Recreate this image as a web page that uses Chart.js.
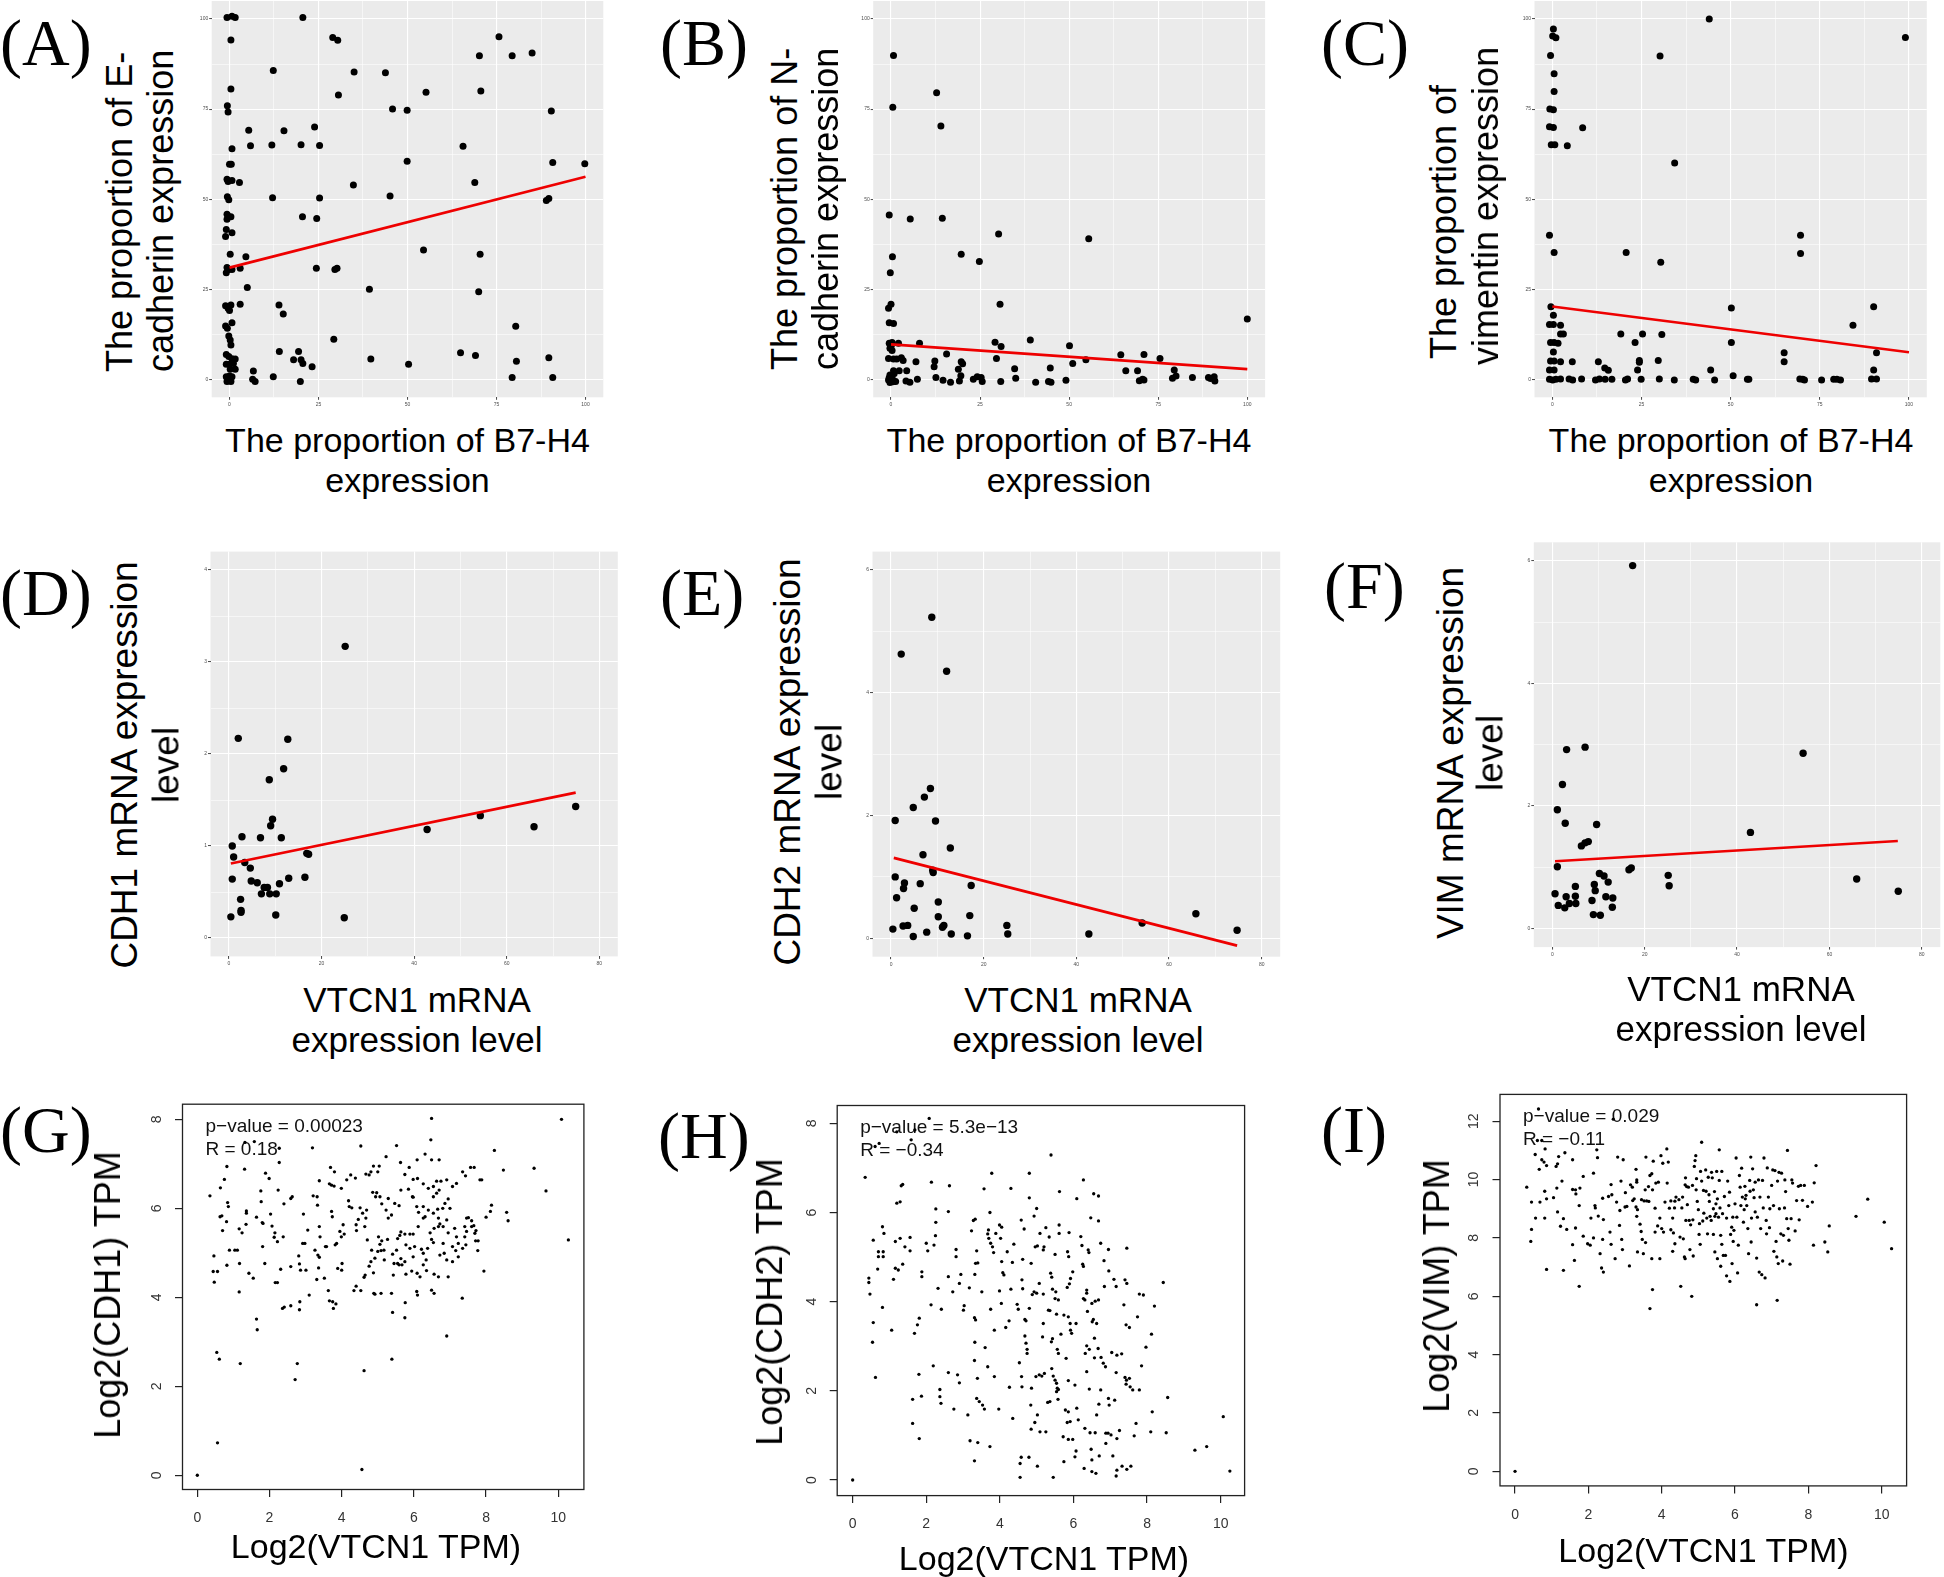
<!DOCTYPE html>
<html><head><meta charset="utf-8">
<script src="https://cdn.jsdelivr.net/npm/chart.js@4.4.1/dist/chart.umd.min.js"></script>
<style>
html,body{margin:0;padding:0;background:#fff;overflow:hidden;width:1944px;height:1577px;position:relative;}
.lbl{position:absolute;font-family:"Liberation Serif","Times New Roman",serif;font-size:66px;line-height:66px;color:#000;white-space:nowrap;}
.t{position:absolute;font-family:"Liberation Sans",Arial,sans-serif;color:#000;white-space:nowrap;transform-origin:0 0;}
</style></head><body>
<script>
// ---------------- data ----------------
const A_POINTS = [[-0.7,100.4],[0.7,100.8],[1.6,100.4],[0.4,94.2],[0.4,80.6],[-0.6,75.9],[-0.4,74.2],[0.7,64.0],[0,59.7],[0.5,59.7],[-0.7,55.5],[-0.4,54.9],[0.7,55.2],[-0.6,50.7],[-0.2,49.8],[-0.7,45.8],[-0.2,45.1],[0.4,45.1],[-0.7,44.4],[-0.9,41.6],[0.7,40.7],[-1.1,39.6],[0.2,34.7],[-0.9,29.6],[-0.2,30.5],[0.7,30.5],[-0.7,31.0],[-1.1,20.4],[0.4,20.6],[-0.4,19.7],[0,19.1],[-1.1,14.8],[-0.6,14.2],[0.7,15.7],[-0.2,12.0],[0.2,10.9],[0.4,9.5],[-0.9,6.9],[-0.2,6.3],[0.7,5.7],[-0.9,4.2],[0,4.2],[1.1,4.4],[1.6,5.6],[1.6,2.8],[0.2,2.8],[-0.9,0.7],[0,0.9],[0.7,0.7],[-0.7,-0.6],[0.4,-0.6],
[2.8,54.6],[3.0,30.8],[3.0,20.8],[4.6,34.0],[5.0,25.5],[5.4,69.1],[5.9,64.8],[6.7,2.3],[6.5,0],[7.2,-0.6],
[12.3,85.7],[11.9,65.0],[12.1,50.4],[12.3,0.7],[13.9,20.6],[15.1,18.1],[14.0,7.7],[15.3,69.0],
[18.0,5.4],[19.4,7.7],[20.1,5.4],[20.6,4.4],[19.9,-0.6],[20.1,65.1],[20.5,45.1],[20.6,100.4],
[23.2,3.5],[23.9,70.0],[24.5,44.6],[24.4,30.8],[25.3,64.9],[25.3,50.3],
[29.0,94.9],[30.4,94.1],[30.6,78.9],[29.3,11.1],[29.6,30.5],[30.2,30.8],
[35.0,85.3],[34.8,53.9],[39.3,25.0],[39.7,5.6],[43.8,85.1],[45.8,75.0],[45.1,50.9],
[49.9,74.7],[49.9,60.5],[50.3,4.2],[54.5,35.9],[55.2,79.7],
[64.9,7.4],[65.6,64.7],[68.9,54.6],[69.1,6.6],[70.2,89.8],[70.6,80.0],[70.4,34.7],[70.0,24.3],
[75.7,95.1],[79.4,89.8],[80.4,14.7],[79.4,0.5],[80.6,5.0],[85.0,90.6],
[89.0,49.6],[89.7,50.2],[90.4,74.5],[90.8,60.2],[89.7,6.0],[90.8,0.5],[99.8,59.8]];
const A_FIT = [[0,31.0],[100,56.2]];

const B_POINTS = [[0.7,89.9],[12.8,79.5],[0.5,75.5],[14.0,70.3],[-0.5,45.6],[5.4,44.5],[14.4,44.7],[30.2,40.3],[55.5,39.0],[0.4,34.0],[19.7,34.7],[24.8,32.7],[-0.2,29.6],[-0.7,19.7],[0,20.8],[30.6,20.8],[-0.5,15.7],[0.7,15.5],[100,16.7],
[-0.5,10.0],[0.3,10.2],[-0.3,8.6],[0.3,8.0],[-0.7,5.8],[0.7,5.6],[1.6,5.6],[0.7,2.4],[-0.3,1.2],[0.3,0.7],[-0.7,-0.2],[0.7,-0.4],[1.3,-0.6],[-0.3,-0.9],[0.9,1.6],[-0.5,0.4],[0.5,-0.7],[0.1,9.4],
[2.1,10.0],[2.9,6.0],[3.4,5.2],[2.3,2.4],[4.4,2.4],[4.2,-0.5],[5.3,-0.8],[8.0,10.0],[7.0,4.9],[7.4,0],
[12.3,5.1],[12.1,3.5],[12.6,0.5],[14.6,-0.3],[15.6,7.0],[16.7,-0.8],[18.9,2.8],[19.7,4.9],[20.1,4.3],[19.6,1.0],[19.2,-0.5],
[23.1,0],[24.2,0.7],[25.3,0.5],[25.6,-0.6],[29.2,10.3],[30.9,9.1],[29.6,5.8],[30.8,-0.6],
[34.7,2.9],[35.0,0.3],[39.1,10.9],[40.6,-0.8],[44.7,3.1],[44.2,-0.6],[44.9,-0.8],
[49.1,-0.3],[50.1,9.3],[51.0,4.4],[54.7,5.4],[64.5,6.8],[65.9,2.4],[69.2,2.4],[69.7,-0.4],[70.6,0],[71.0,-0.2],[71.0,6.9],
[75.5,5.8],[79.5,2.6],[79.0,0.3],[80.0,0.9],[84.6,0.5],[89.1,0.5],[89.7,0.2],[90.7,0.7],[90.9,-0.5]];
const B_FIT = [[0,9.7],[100,2.8]];

const C_POINTS = [[0.3,97.2],[0.1,95.3],[1.0,94.8],[-0.5,89.9],[0.5,84.8],[0.5,79.9],[-0.7,75.0],[0.3,74.8],[-0.8,70.1],[0.3,69.9],[-0.3,65.1],[0.7,65.1],[4.2,64.8],[8.5,69.8],[44.0,100.0],[30.2,89.7],[34.3,60.0],[99.0,94.9],
[-0.8,40.0],[0.5,35.2],[20.7,35.2],[30.4,32.5],[69.6,40.0],[69.6,34.9],
[-0.4,20.1],[0.3,17.8],[-0.8,15.2],[0.3,15.2],[2.3,15.0],[2.3,12.6],[3.1,12.6],[-0.5,10.2],[0.5,10.2],[1.6,10.0],[0.3,7.6],[-0.5,5.1],[0.5,5.1],[2.3,4.9],[5.6,4.9],[-0.8,2.6],[0.5,2.6],
[-0.8,0],[0.1,-0.2],[1.0,0],[2.3,0.1],[4.7,0.1],[5.7,-0.2],[8.2,0.1],
[12.9,4.9],[14.7,3.1],[15.7,2.5],[12.1,-0.2],[13.2,0.1],[14.8,0],[16.7,0],
[19.2,12.6],[23.2,10.2],[25.3,12.6],[24.4,5.2],[24.4,4.7],[23.9,2.6],[20.5,-0.2],[21.1,0.1],[24.9,0],
[30.7,12.4],[29.7,5.2],[30.0,0.1],[34.2,-0.2],[39.5,0],[40.2,-0.2],
[44.4,2.6],[45.5,-0.2],[50.2,19.8],[50.2,10.2],[50.7,1.0],[54.7,0],[55.1,0],
[65.0,7.4],[65.0,4.9],[69.4,0.1],[70.2,0],[70.7,-0.2],[75.5,-0.2],[78.9,0],[79.8,0],[80.8,-0.2],[84.3,15.0],
[90.1,20.1],[90.9,7.4],[90.1,2.6],[89.5,0.1],[90.9,0.1]];
const C_FIT = [[0,20.2],[100,7.5]];

const D_POINTS = [[0.4,0.23],[0.7,0.64],[0.7,1.0],[1.0,0.88],[2.0,2.17],[2.5,0.42],[2.6,0.30],[2.6,0.28],[2.8,1.10],[3.4,0.82],[4.6,0.76],[4.8,0.62],[6.1,0.60],[6.8,1.09],[7.0,0.48],[7.6,0.55],[8.3,0.55],[8.7,1.72],[8.8,0.48],[9.0,1.22],[9.4,1.29],[10.1,0.25],[10.2,0.48],[10.9,0.59],[11.3,1.09],[11.8,1.84],[12.7,2.16],[12.9,0.65],[16.4,0.66],[16.8,0.92],[17.2,0.91],[25.1,3.17],[24.9,0.22],[42.8,1.18],[54.3,1.33],[65.9,1.21],[74.9,1.43]];
const D_FIT = [[0.4,0.81],[74.9,1.58]];

const E_POINTS = [[0.4,0.15],[0.9,1.92],[0.9,1.00],[1.2,0.66],[2.2,4.63],[2.6,0.20],[3.6,0.21],[2.7,0.81],[2.9,0.90],[4.8,2.13],[4.8,0.03],[5.0,0.49],[6.3,0.89],[6.9,1.36],[7.2,2.30],[7.7,0.10],[8.5,2.44],[8.8,5.23],[9.0,1.11],[9.1,1.07],[9.6,1.91],[10.2,0.59],[10.2,0.35],[11.1,0.18],[11.4,0.21],[12.0,4.35],[12.8,1.47],[13.0,0.07],[16.5,0.04],[17.0,0.37],[17.3,0.86],[25.0,0.21],[25.2,0.07],[42.7,0.07],[54.2,0.25],[65.8,0.40],[74.7,0.13]];
const E_FIT = [[0.6,1.31],[74.7,-0.12]];

const F_POINTS = [[0.6,0.57],[1.1,1.94],[1.1,1.01],[1.3,0.38],[2.2,2.35],[2.8,1.72],[2.7,0.34],[3.0,0.52],[3.1,2.92],[3.7,0.41],[5.0,0.53],[5.0,0.69],[5.1,0.41],[6.3,1.35],[7.1,1.40],[7.8,1.42],[7.1,2.96],[8.6,0.46],[8.9,0.23],[9.1,0.72],[9.3,0.62],[9.6,1.70],[10.2,0.90],[10.4,0.22],[11.2,0.86],[11.6,0.52],[12.1,0.76],[13.0,0.35],[13.1,0.50],[16.6,0.96],[17.1,0.99],[17.4,5.92],[25.1,0.87],[25.3,0.70],[42.9,1.57],[54.3,2.86],[65.9,0.81],[74.9,0.61]];
const F_FIT = [[0.6,1.10],[74.8,1.43]];

const G_POINTS = [[0,0],[0.56,0.73],[0.54,2.76],[0.61,2.61],[1.19,2.51],[2.77,2.51],[2.71,2.15],[1.64,3.51],[1.66,3.27],[4.56,0.13],[4.62,2.35],[5.39,2.61],[5.41,3.66],[5.75,3.54],[6.91,3.13],[7.34,3.98],[7.94,4.59],[10.28,5.29],[10.09,8.0],[6.49,8.02],[9.66,6.39],[9.33,6.90],[8.48,6.86],[8.23,7.30],[8.61,5.72],[8.57,5.91],[8.0,5.80],[8.15,6.07],[8.12,5.93],[7.83,6.64],[7.88,6.64],[7.57,6.92],[7.67,6.92],[7.72,5.50],[7.78,5.27],[7.77,5.05],[1.32,7.48],[1.58,7.50],[2.27,7.35],
[0.35,6.28],[0.46,4.93],[0.44,4.58],[0.56,4.58],[0.47,4.34],[0.63,5.81],[0.68,5.83],[0.75,6.65],[0.64,6.46],[0.70,5.50],[0.81,5.70],[0.82,6.94],[0.84,6.13],[0.86,6.04],[0.82,4.72],[0.89,5.06],[1.04,5.06],[1.11,5.06],[1.16,5.54],[1.24,5.45],[1.17,4.76],[1.16,4.12],[1.31,6.88],[1.36,5.94],[1.36,5.89],[1.35,5.64],[1.43,4.54],[1.55,4.43],[1.64,5.80],[1.80,5.68],[1.82,5.66],[1.77,6.15],[1.76,6.39],[1.81,5.14],[1.87,4.76],[1.89,6.79],[1.99,6.67],[2.03,5.87],[2.07,5.60],[2.15,5.45],[2.13,5.35],[2.16,4.33],[2.22,4.33],[2.24,6.41],[2.27,7.03],[2.22,5.25],[2.31,4.63],
[2.36,3.75],[2.41,3.78],[2.40,6.10],[2.38,5.36],[2.59,6.22],[2.63,6.26],[2.59,4.69],[2.59,3.81],[2.81,4.93],[2.83,4.75],[2.86,4.61],[2.83,3.72],[2.84,3.90],[2.92,5.21],[2.98,5.21],[2.94,5.87],[3.01,4.61],[3.06,5.51],[3.10,4.05],[3.19,7.36],[3.21,6.28],[3.32,6.26],[3.26,5.06],[3.31,4.40],[3.33,6.07],[3.34,4.95],[3.38,4.90],[3.36,4.66],[3.38,6.62],[3.38,5.59],[3.40,5.36],[3.52,4.43],[3.55,5.14],[3.58,5.14],[3.63,4.15],[3.66,6.55],[3.69,6.92],[3.72,6.52],[3.79,6.50],[3.72,5.93],[3.74,5.81],[3.66,3.92],[3.75,3.90],[3.84,3.85],[3.77,3.75],[3.80,6.82],[3.82,5.18],[3.86,5.21],[3.89,4.65],[3.95,5.48],[3.99,5.36],[4.01,4.76],[4.00,4.61],[4.04,5.63],[3.99,6.45],[4.07,5.42],
[4.14,6.64],[4.19,6.17],[4.21,6.04],[4.25,6.75],[4.28,6.01],[4.34,4.15],[4.40,4.25],[4.38,6.68],[4.40,5.63],[4.41,5.50],[4.46,5.75],[4.51,6.01],[4.53,7.40],[4.53,4.15],[4.58,5.89],[4.62,4.45],[4.65,4.50],[4.64,5.59],[4.67,6.77],[4.67,5.78],[4.69,5.96],[4.71,5.29],[4.76,6.75],[4.76,4.70],[4.81,4.80],[4.81,6.82],[4.83,5.06],[4.86,6.36],[4.88,6.95],[4.89,4.09],[4.92,4.07],[4.88,4.55],[4.92,4.88],[4.94,6.26],[4.97,6.35],[5.00,6.82],[5.00,5.03],[5.02,5.36],[5.04,6.95],[5.06,6.26],[5.06,5.19],[5.09,5.05],[5.09,4.09],[5.11,6.10],[5.11,5.27],[5.17,5.06],[5.18,4.84],[5.23,5.96],[5.23,7.16],[5.27,5.30],[5.29,6.22],[5.29,5.78],[5.38,5.85],[5.38,4.09],[5.41,4.97],[5.43,4.50],[5.45,4.76],[5.47,6.11],[5.52,7.41],[5.52,5.06],[5.55,5.32],[5.55,4.76],[5.59,6.06],[5.59,4.73],[5.67,4.73],[5.61,5.39],[5.63,7.03],[5.64,6.41],[5.64,5.47],[5.64,4.87],[5.75,6.76],[5.75,5.42],[5.75,4.80],[5.76,3.88],[5.78,5.18],[5.78,4.52],[5.85,6.43],[5.87,6.92],[5.89,5.42],[5.89,5.10],[5.94,4.59],[5.96,6.26],[5.98,6.25],
[5.98,6.65],[6.10,6.67],[5.98,5.42],[5.98,4.91],[6.02,5.14],[6.08,6.04],[6.08,4.13],[6.10,4.05],[6.09,7.09],[6.09,4.54],[6.12,5.59],[6.13,5.91],[6.17,4.46],[6.21,5.08],[6.26,6.55],[6.26,6.04],[6.26,5.78],[6.26,4.99],[6.26,4.73],[6.31,7.22],[6.31,5.81],[6.34,4.84],[6.35,4.60],[6.38,5.10],[6.40,6.45],[6.40,5.96],[6.45,5.45],[6.47,7.54],[6.49,7.09],[6.49,5.30],[6.49,4.16],[6.56,4.09],[6.54,6.49],[6.54,6.26],[6.54,5.89],[6.54,5.23],[6.56,5.55],[6.56,4.52],[6.63,6.61],[6.75,6.61],[6.63,6.34],[6.66,5.98],[6.68,5.78],[6.68,5.59],[6.68,4.46],[6.70,7.09],[6.70,6.41],[6.72,5.65],[6.72,4.95],[6.80,6.00],[6.81,5.59],[6.81,5.21],[6.84,4.99],[6.86,6.11],[6.91,6.64],[6.91,5.74],[6.91,4.84],[6.95,6.21],[6.95,5.45],[6.95,4.46],[7.00,6.00],[7.07,6.49],[7.07,5.14],[7.07,4.80],[7.13,5.55],[7.16,5.05],[7.18,6.56],[7.18,5.36],[7.23,5.21],[7.23,4.91],[7.35,6.82],[7.35,5.10],[7.41,5.59],[7.41,5.36],[7.43,6.73],[7.44,5.18],[7.46,5.78],[7.46,5.48],[7.51,5.79],[7.60,5.72],[7.60,5.59],[7.66,5.61],[7.69,5.44],[7.71,5.27]];

const H_POINTS = [[0,0],[10.25,0.2],[10.07,1.42],[9.62,0.75],[9.30,0.67],[8.56,1.85],[8.44,4.43],[5.39,7.29],[0.34,6.79],[2.08,8.11],[1.20,7.81],[1.69,7.85],[1.59,7.63],[0.72,7.55],[0.61,7.48],
[1.32,6.60],[1.36,6.63],[1.20,6.21],[1.29,6.24],[0.81,5.68],[0.85,5.53],[0.56,5.38],[0.70,5.12],[0.83,5.12],[0.70,5.01],[0.83,5.01],[0.68,4.73],[0.44,4.53],[0.44,4.43],[0.47,4.17],[0.81,3.87],[0.56,3.53],[0.54,3.09],[0.62,2.30],[1.06,3.36],[1.16,5.35],[1.29,5.42],[1.42,5.23],[1.56,5.44],[1.56,5.14],[1.16,4.75],[1.24,4.71],[1.36,4.84],[1.11,4.50],[1.63,1.27],[1.81,0.93],[1.63,1.81],[1.87,1.88],[1.68,3.29],[1.76,3.48],[1.81,3.63],[1.80,2.37],[1.88,4.67],[1.88,4.56],[2.00,5.31],[2.04,5.14],[2.14,6.68],[2.26,6.08],[2.26,5.78],[2.25,5.48],[2.21,5.27],[2.32,4.30],[2.13,3.93],[2.41,3.83],[2.19,2.56],[2.37,2.03],[2.37,1.87],[2.40,1.72],[2.60,6.02],[2.63,6.60],[2.60,4.56],[2.72,4.22],[2.75,1.59],[2.60,2.41],[2.85,2.36],[2.90,2.18],[2.81,5.17],[2.81,5.01],[2.90,4.41],[2.94,4.61],[3.01,3.81],[3.03,3.91],[3.17,4.31],[3.13,1.46],[3.23,5.59],[3.28,5.82],[3.33,5.85],[3.31,3.64],[3.34,3.59],[3.32,3.09],[3.37,5.14],[3.34,4.86],[3.40,4.87],[3.32,4.61],[3.31,2.68],[3.39,2.28],[3.19,0.88],[3.40,0.84],[3.31,0.43],[3.37,1.83],[3.44,1.76],[3.53,1.68],[3.51,4.22],[3.57,6.53],[3.60,2.97],[3.58,1.59],[3.69,5.61],[3.67,5.52],[3.70,5.42],[3.73,6.00],[3.75,5.31],[3.80,5.23],[3.78,6.88],[3.75,3.83],[3.67,2.54],[3.73,0.75],[3.85,3.36],[3.85,2.32],[3.89,5.53],[3.83,5.10],[3.97,1.59],[3.99,5.72],[4.05,5.67],[3.99,4.24],[4.02,5.42],[4.04,3.96],[4.08,4.65],[4.05,4.90],[4.11,4.60],[4.16,3.42],[4.20,5.12],[4.25,3.57],[4.26,2.08],[4.30,6.54],[4.34,4.88],[4.30,4.28],[4.35,1.38],[4.38,5.29],[4.47,3.94],[4.50,3.83],[4.53,2.63],[4.55,0.06],[4.55,0.37],[4.59,2.32],[4.60,2.09],[4.58,0.51],[4.79,0.51],[4.60,4.49],[4.62,4.29],[4.66,5.63],[4.58,5.83],[4.62,4.95],[4.68,3.60],[4.71,3.57],[4.68,3.23],[4.74,2.93],[4.74,2.84],[4.71,3.07],[4.80,6.33],[4.80,3.85],[4.85,4.86],[4.86,2.06],[4.88,4.16],[4.84,1.68],[4.85,1.14],[4.93,4.22],[5.00,4.19],[4.93,5.92],[4.96,5.23],[5.02,5.25],[5.00,6.09],[4.95,1.29],[4.98,2.32],[5.02,0.31],[5.02,1.46],[5.07,4.41],[5.09,5.53],[5.09,1.08],[5.25,1.08],[5.14,2.33],[5.07,2.36],[5.16,3.21],[5.18,3.51],[5.18,5.16],[5.20,5.23],[5.18,4.17],[5.25,5.66],[5.21,2.39],[5.32,3.81],[5.36,3.80],[5.30,1.74],[5.36,1.76],[5.34,5.45],[5.38,4.64],[5.41,4.55],[5.41,2.50],[5.45,0.06],[5.43,3.17],[5.40,3.10],[5.43,4.28],[5.45,2.33],[5.50,4.07],[5.50,2.24],[5.54,2.17],[5.50,5.06],[5.52,4.22],[5.54,3.72],[5.56,2.93],[5.59,2.84],[5.58,1.81],[5.54,1.98],[5.56,2.06],[5.59,2.03],[5.59,4.04],[5.61,5.72],[5.61,5.53],[5.62,6.47],[5.66,3.27],[5.72,0.97],[5.74,0.41],[5.74,3.70],[5.78,1.57],[5.86,1.53],[5.80,2.73],[5.83,4.32],[5.84,5.12],[5.87,5.01],[5.86,3.66],[5.83,1.29],[5.91,1.31],[5.86,2.23],[5.88,5.55],[5.91,3.51],[5.92,3.36],[5.95,3.29],[5.86,0.91],[5.98,0.91],[5.89,4.40],[5.92,4.52],[5.98,4.67],[6.04,2.13],[6.07,3.51],[6.09,1.61],[6.07,0.65],[6.04,0.52],[6.13,1.35],[6.09,6.31],[6.20,5.46],[6.23,5.26],[6.25,4.84],[6.27,4.79],[6.27,6.73],[6.27,4.07],[6.31,4.04],[6.29,0.26],[6.31,1.16],[6.32,2.84],[6.36,4.26],[6.36,4.19],[6.36,3.01],[6.43,2.93],[6.36,2.43],[6.38,3.78],[6.40,5.16],[6.42,5.10],[6.43,2.04],[6.45,1.06],[6.59,1.06],[6.47,5.88],[6.48,0.69],[6.50,0.45],[6.50,3.96],[6.51,3.55],[6.54,3.60],[6.50,0.19],[6.61,0.15],[6.55,6.42],[6.68,6.37],[6.57,3.18],[6.57,2.74],[6.59,4.01],[6.63,1.46],[6.63,3.51],[6.67,2.95],[6.68,5.81],[6.68,4.04],[6.69,1.70],[6.70,0.54],[6.74,5.31],[6.74,2.02],[6.75,2.75],[6.81,2.62],[6.83,4.92],[6.84,4.34],[6.87,2.54],[6.88,1.05],[6.88,0.82],[6.94,1.05],[7.02,1.01],[6.95,5.17],[6.96,4.69],[6.95,1.83],[6.97,1.68],[7.04,2.86],[7.07,0.54],[7.10,4.50],[7.12,1.79],[7.16,4.34],[7.16,2.41],[7.18,2.80],[7.18,0.93],[7.18,0.22],[7.16,0.09],[7.25,1.11],[7.31,2.83],[7.32,0.31],[7.37,3.93],[7.40,4.49],[7.40,2.30],[7.44,2.24],[7.43,3.48],[7.52,3.42],[7.45,4.41],[7.43,2.15],[7.45,0.24],[7.56,0.31],[7.45,5.20],[7.52,2.28],[7.54,2.09],[7.61,2.02],[7.65,0.99],[7.70,1.27],[7.74,3.66],[7.79,2.02],[7.79,4.17],[7.90,4.15],[7.85,2.56],[7.97,2.98],[8.10,1.08],[8.12,3.27],[8.14,1.53],[8.20,3.90],[8.52,1.06],[4.80,6.88]];

const I_POINTS = [[0,0],[0.64,12.42],[2.68,12.07],[0.61,11.34],[0.73,11.34],[0.32,9.74],[0.43,7.88],[0.45,8.29],[0.45,9.23],[0.56,8.68],[0.55,10.86],[0.66,10.35],[0.73,10.68],[0.79,10.60],[0.82,11.05],[0.86,10.48],[0.68,9.23],[0.81,8.68],[0.81,9.60],[0.86,9.34],[0.86,6.92],[1.05,9.38],[1.12,10.45],[1.16,10.54],[1.19,10.79],[1.14,9.71],[1.16,8.89],[1.24,8.40],[1.28,9.95],[1.32,8.66],[1.32,6.89],[1.36,10.92],[1.41,8.29],[1.57,10.68],[1.57,9.66],[1.65,9.65],[1.66,9.51],[1.77,9.71],[1.75,9.11],[1.65,8.34],[1.57,7.77],[1.62,7.23],[1.75,6.34],[1.86,10.11],[1.86,8.06],[1.98,7.80],[2.05,7.75],[2.07,8.68],[2.14,8.00],[2.14,10.22],[2.18,9.11],[2.19,9.03],[2.23,11.02],[2.25,10.75],[2.27,8.75],[2.32,7.46],[2.36,6.97],[2.41,6.83],[2.39,7.95],[2.41,8.63],[2.39,9.36],[2.55,9.42],[2.59,8.20],[2.62,7.78],[2.62,9.83],[2.64,9.48],[2.73,7.29],[2.77,9.23],[2.80,10.77],[2.85,8.43],[2.86,8.94],[2.89,9.95],[2.91,7.95],[2.93,7.60],[2.95,10.68],[3.01,9.55],[3.00,9.06],[3.05,9.08],[3.12,7.04],[3.15,9.82],[3.20,9.74],[3.21,9.28],[3.25,9.34],[3.30,10.35],[3.32,9.99],[3.32,9.91],[3.30,9.06],[3.34,8.97],[3.32,8.74],[3.34,7.52],[3.41,8.47],[3.44,8.22],[3.45,9.31],[3.47,7.95],[3.50,7.46],[3.52,9.27],[3.55,9.65],[3.56,7.84],[3.57,10.77],[3.59,9.27],[3.64,9.76],[3.65,9.25],[3.68,10.14],[3.68,5.58],[3.73,10.20],[3.73,7.29],[3.75,6.23],[3.75,9.65],[3.77,10.63],[3.82,8.20],[3.82,9.02],[3.84,9.88],[3.89,8.41],[3.91,9.91],[3.95,7.29],[3.95,8.68],[3.98,10.82],[4.00,8.32],[4.05,8.20],[4.03,10.56],[4.09,9.23],[4.14,11.05],[4.15,9.88],[4.18,10.60],[4.21,9.02],[4.25,9.27],[4.25,8.28],[4.30,8.68],[4.30,7.54],[4.32,8.17],[4.35,9.03],[4.36,9.26],[4.36,7.80],[4.39,9.40],[4.47,9.31],[4.50,8.03],[4.52,6.34],[4.55,9.03],[4.57,9.40],[4.59,7.97],[4.62,7.35],[4.64,7.29],[4.65,10.06],[4.64,9.82],[4.66,8.60],[4.68,9.76],[4.70,9.14],[4.73,9.74],[4.75,8.60],[4.77,7.60],[4.79,8.45],[4.82,6.00],[4.84,9.80],[4.85,8.62],[4.86,7.38],[4.89,10.45],[4.91,10.65],[4.93,10.82],[4.94,9.65],[4.95,10.03],[4.97,9.25],[5.00,8.97],[5.02,8.12],[5.03,8.49],[5.05,7.78],[5.06,10.28],[5.09,11.28],[5.09,9.95],[5.12,8.58],[5.14,9.63],[5.15,8.85],[5.20,10.33],[5.21,9.60],[5.23,8.68],[5.25,8.14],[5.27,10.08],[5.29,9.48],[5.30,9.25],[5.32,8.74],[5.35,8.60],[5.36,10.25],[5.38,10.06],[5.41,9.00],[5.41,8.12],[5.44,9.59],[5.45,8.74],[5.48,8.83],[5.45,7.52],[5.48,9.17],[5.50,10.28],[5.52,9.34],[5.52,7.29],[5.55,8.71],[5.57,11.02],[5.57,9.97],[5.59,9.03],[5.61,8.09],[5.61,7.03],[5.64,10.28],[5.64,7.78],[5.66,8.83],[5.68,7.40],[5.71,9.42],[5.74,7.40],[5.77,8.68],[5.77,6.70],[5.80,9.95],[5.83,9.11],[5.85,9.57],[5.86,6.51],[5.88,8.12],[5.91,8.37],[5.92,7.12],[5.94,8.71],[5.95,7.88],[5.97,8.26],[6.00,9.17],[6.03,10.74],[6.05,8.71],[6.07,6.80],[6.09,7.75],[6.12,10.14],[6.14,9.74],[6.16,9.11],[6.18,10.39],[6.20,9.40],[6.23,8.54],[6.25,8.97],[6.27,9.77],[6.28,9.34],[6.30,9.46],[6.32,9.11],[6.35,8.32],[6.37,7.46],[6.40,9.97],[6.41,9.60],[6.43,10.77],[6.44,7.86],[6.45,8.68],[6.48,10.37],[6.50,9.65],[6.52,9.38],[6.55,9.91],[6.55,8.89],[6.59,7.31],[6.59,5.71],[6.61,8.71],[6.64,9.99],[6.66,6.83],[6.68,9.40],[6.70,8.32],[6.73,6.74],[6.75,9.97],[6.77,9.03],[6.79,10.74],[6.82,6.63],[6.85,8.60],[6.86,8.14],[6.88,10.40],[6.91,9.40],[6.94,8.35],[6.95,9.00],[7.00,9.80],[7.03,10.33],[7.05,9.11],[7.06,7.54],[7.09,10.31],[7.12,7.88],[7.14,7.35],[7.15,5.86],[7.16,9.95],[7.18,7.12],[7.20,10.25],[7.21,9.00],[7.25,8.14],[7.27,10.22],[7.30,7.21],[7.32,8.09],[7.35,9.03],[7.36,9.99],[7.38,9.59],[7.41,8.66],[7.43,11.00],[7.45,8.32],[7.47,7.92],[7.50,7.10],[7.53,8.66],[7.55,9.99],[7.57,9.88],[7.64,8.24],[7.68,9.28],[7.73,9.77],[7.75,8.62],[7.79,9.80],[7.84,9.29],[7.89,9.80],[7.98,9.08],[8.11,9.23],[8.14,7.75],[8.16,9.89],[8.21,10.48],[8.45,7.86],[8.53,7.52],[8.57,8.41],[9.30,8.74],[9.62,9.33],[10.07,8.54],[10.27,7.63]];

// tick values
const TICKS_PCT = [0,25,50,75,100];
const MINOR_PCT = [12.5,37.5,62.5,87.5];
const TICKS_MRNA_X = [0,20,40,60,80];
const MINOR_MRNA_X = [10,30,50,70];
const TICKS_D_Y = [0,1,2,3,4];
const MINOR_D_Y = [0.5,1.5,2.5,3.5];
const TICKS_EF_Y = [0,2,4,6];
const MINOR_EF_Y = [1,3,5];
const TICKS_TPM_X = [0,2,4,6,8,10];
const TICKS_GH_Y = [0,2,4,6,8];
const TICKS_I_Y = [0,2,4,6,8,10,12];

// texts
const PANEL_LABELS = ['(A)','(B)','(C)','(D)','(E)','(F)','(G)','(H)','(I)'];
const STATS_G = ['p\u2212value = 0.00023','R = 0.18'];
const STATS_H = ['p\u2212value = 5.3e\u221213','R = \u22120.34'];
const STATS_I = ['p\u2212value = 0.029','R = \u22120.11'];
const XT_PROP = ['The proportion of B7-H4','expression'];
const XT_MRNA = ['VTCN1 mRNA','expression level'];
const XT_TPM = 'Log2(VTCN1 TPM)';
const YT_A = ['The proportion of E-','cadherin expression'];
const YT_B = ['The proportion of N-','cadherin expression'];
const YT_C = ['The proportion of','vimentin expression'];
const YT_D = ['CDH1 mRNA expression','level'];
const YT_E = ['CDH2 mRNA expression','level'];
const YT_F = ['VIM mRNA expression','level'];
const YT_G = 'Log2(CDH1) TPM';
const YT_H = 'Log2(CDH2) TPM';
const YT_I = 'Log2(VIM) TPM';

// ---------------- rendering ----------------
const FONT = '"Liberation Sans", Arial, sans-serif';

const deco = {
  id: 'deco',
  beforeDraw(chart, args, o) {
    const a = chart.chartArea, ctx = chart.ctx;
    if (o.bg) { ctx.save(); ctx.fillStyle = o.bg; ctx.fillRect(a.left, a.top, a.right - a.left, a.bottom - a.top); ctx.restore(); }
  },
  beforeDatasetsDraw(chart, args, o) {
    if (!o.stats) return;
    const a = chart.chartArea, ctx = chart.ctx;
    ctx.save(); ctx.fillStyle = '#111'; ctx.font = '19px ' + FONT; ctx.textAlign = 'left'; ctx.textBaseline = 'alphabetic';
    ctx.fillText(o.stats[0], a.left + 23, a.top + 27.5);
    ctx.fillText(o.stats[1], a.left + 23, a.top + 50.5);
    ctx.restore();
  },
  afterDraw(chart, args, o) {
    if (!o.box) return;
    const a = chart.chartArea, ctx = chart.ctx;
    ctx.save(); ctx.strokeStyle = '#222'; ctx.lineWidth = 1.3;
    ctx.strokeRect(a.left, a.top, a.right - a.left, a.bottom - a.top);
    const ys = chart.scales.y;
    ctx.fillStyle = '#333'; ctx.font = '14px ' + FONT; ctx.textAlign = 'center'; ctx.textBaseline = 'middle';
    for (const t of ys.ticks) {
      const py = ys.getPixelForValue(t.value);
      ctx.save(); ctx.translate(a.left - 25.4, py); ctx.rotate(-Math.PI / 2); ctx.fillText(String(t.value), 0, 0); ctx.restore();
    }
    ctx.restore();
  }
};

function addPanel(p) {
  const gg = p.style === 'gg';
  const padL = gg ? 30 : 62, padB = gg ? 22 : 52, padT = 12, padR = 12;
  const cl = Math.floor(p.L - padL), ct = Math.floor(p.T - padT);
  const cr = Math.min(1944, Math.ceil(p.R + padR)), cb = Math.ceil(p.B + padB);
  const W = cr - cl, H = cb - ct;
  const cv = document.createElement('canvas');
  cv.width = W; cv.height = H;
  cv.style.cssText = 'position:absolute;left:' + cl + 'px;top:' + ct + 'px;width:' + W + 'px;height:' + H + 'px;';
  document.body.appendChild(cv);
  const yW = p.L - cl, xH = cb - p.B, lpT = p.T - ct, lpR = cr - p.R;
  const mx = new Set(p.xMajor), my = new Set(p.yMajor);
  const allX = p.xMajor.concat(p.xMinor || []).sort((a, b) => a - b);
  const allY = p.yMajor.concat(p.yMinor || []).sort((a, b) => a - b);
  const grid = (maj) => gg ? {
      drawOnChartArea: true, drawTicks: true, tickLength: 2.5, color: '#FFFFFF',
      lineWidth: c => (c.tick && maj.has(c.tick.value)) ? 1.1 : 0.55,
      tickColor: c => (c.tick && maj.has(c.tick.value)) ? '#333333' : 'rgba(0,0,0,0)',
      tickWidth: 0.9
    } : { drawOnChartArea: false, drawTicks: true, tickLength: 7.5, color: '#222', tickColor: '#222', tickWidth: 1.2, lineWidth: 1.2 };
  const ds = [{
    data: p.points.map(([x, y]) => ({ x, y })), pointRadius: p.r, pointHoverRadius: p.r,
    pointBackgroundColor: '#000', pointBorderColor: '#000', pointBorderWidth: 0, order: 2
  }];
  if (p.fit) ds.push({
    data: p.fit.map(([x, y]) => ({ x, y })), showLine: true, borderColor: '#EE0000', borderWidth: 2.7,
    pointRadius: 0, pointHoverRadius: 0, order: 1
  });
  new Chart(cv, {
    type: 'scatter',
    data: { datasets: ds },
    options: {
      responsive: false, animation: false, events: [], devicePixelRatio: 1,
      layout: { padding: { left: 0, right: lpR, top: lpT, bottom: 0 } },
      plugins: { legend: { display: false }, tooltip: { enabled: false },
        deco: { bg: gg ? '#EBEBEB' : null, box: !gg, stats: p.stats || null } },
      scales: {
        x: {
          type: 'linear', position: 'bottom', min: p.xmin, max: p.xmax,
          afterBuildTicks: s => { s.ticks = allX.map(v => ({ value: v })); },
          afterFit: s => { s.height = xH; },
          border: { display: false },
          grid: grid(mx),
          ticks: { autoSkip: false, maxRotation: 0, minRotation: 0, padding: gg ? 2 : 13,
            color: gg ? '#4D4D4D' : '#333', font: { family: FONT, size: gg ? 5 : 14 },
            callback: v => mx.has(v) ? String(v) : '' }
        },
        y: {
          type: 'linear', position: 'left', min: p.ymin, max: p.ymax,
          afterBuildTicks: s => { s.ticks = allY.map(v => ({ value: v })); },
          afterFit: s => { s.width = yW; },
          border: { display: false },
          grid: grid(my),
          ticks: { display: gg, autoSkip: false, padding: 1,
            color: '#4D4D4D', font: { family: FONT, size: 5 },
            callback: v => my.has(v) ? String(v) : '' }
        }
      }
    },
    plugins: [deco]
  });
}

const PANELS = [
  { style:'gg', L:211.7, R:603.3, T:1, B:397.3, xmin:-5, xmax:105, ymin:-5, ymax:105, xMajor:TICKS_PCT, xMinor:MINOR_PCT, yMajor:TICKS_PCT, yMinor:MINOR_PCT, points:A_POINTS, fit:A_FIT, r:3.5 },
  { style:'gg', L:873.2, R:1265.1, T:1, B:397.3, xmin:-5, xmax:105, ymin:-5, ymax:105, xMajor:TICKS_PCT, xMinor:MINOR_PCT, yMajor:TICKS_PCT, yMinor:MINOR_PCT, points:B_POINTS, fit:B_FIT, r:3.5 },
  { style:'gg', L:1534.5, R:1926.8, T:1, B:397.3, xmin:-5, xmax:105, ymin:-5, ymax:105, xMajor:TICKS_PCT, xMinor:MINOR_PCT, yMajor:TICKS_PCT, yMinor:MINOR_PCT, points:C_POINTS, fit:C_FIT, r:3.5 },
  { style:'gg', L:210.5, R:617.8, T:551.6, B:956.4, xmin:-4, xmax:84, ymin:-0.2, ymax:4.2, xMajor:TICKS_MRNA_X, xMinor:MINOR_MRNA_X, yMajor:TICKS_D_Y, yMinor:MINOR_D_Y, points:D_POINTS, fit:D_FIT, r:3.7 },
  { style:'gg', L:872.5, R:1280.2, T:551.6, B:956.7, xmin:-4, xmax:84, ymin:-0.3, ymax:6.3, xMajor:TICKS_MRNA_X, xMinor:MINOR_MRNA_X, yMajor:TICKS_EF_Y, yMinor:MINOR_EF_Y, points:E_POINTS, fit:E_FIT, r:3.7 },
  { style:'gg', L:1533.8, R:1941.2, T:542.3, B:947.1, xmin:-4, xmax:84, ymin:-0.3, ymax:6.3, xMajor:TICKS_MRNA_X, xMinor:MINOR_MRNA_X, yMajor:TICKS_EF_Y, yMinor:MINOR_EF_Y, points:F_POINTS, fit:F_FIT, r:3.7 },
  { style:'r', L:182.5, R:583.9, T:1104.2, B:1489.5, xmin:-0.41, xmax:10.71, ymin:-0.32, ymax:8.34, xMajor:TICKS_TPM_X, yMajor:TICKS_GH_Y, points:G_POINTS, r:1.65, stats:STATS_G },
  { style:'r', L:837.2, R:1244.6, T:1105.5, B:1495.6, xmin:-0.42, xmax:10.65, ymin:-0.35, ymax:8.4, xMajor:TICKS_TPM_X, yMajor:TICKS_GH_Y, points:H_POINTS, r:1.65, stats:STATS_H },
  { style:'r', L:1500, R:1906.6, T:1094.4, B:1485.9, xmin:-0.41, xmax:10.68, ymin:-0.5, ymax:12.92, xMajor:TICKS_TPM_X, yMajor:TICKS_I_Y, points:I_POINTS, r:1.65, stats:STATS_I }
];
PANELS.forEach(addPanel);

// ---- HTML text ----
function label(text, left, baseline) {
  const d = document.createElement('div'); d.className = 'lbl'; d.textContent = text;
  d.style.left = left + 'px'; d.style.top = (baseline - 55.3) + 'px';
  document.body.appendChild(d);
}
function htext(text, cx, cy, size) {
  const d = document.createElement('div'); d.className = 't'; d.textContent = text;
  d.style.fontSize = size + 'px'; d.style.lineHeight = size + 'px';
  d.style.left = cx + 'px'; d.style.top = cy + 'px';
  d.style.transform = 'translate(-50%,-50%)';
  document.body.appendChild(d);
}
function vtext(text, cx, y, size, anchor) {
  const d = document.createElement('div'); d.className = 't'; d.textContent = text;
  d.style.fontSize = size + 'px'; d.style.lineHeight = size + 'px';
  d.style.left = cx + 'px'; d.style.top = y + 'px';
  d.style.transform = anchor === 'start' ? 'rotate(-90deg) translate(0,-50%)' : 'rotate(-90deg) translate(-50%,-50%)';
  document.body.appendChild(d);
}

const LBL_POS = [[0,65],[660,65],[1321,65],[0,615],[660,615],[1324,608],[0,1152],[658,1158],[1321,1152]];
PANEL_LABELS.forEach((t, i) => label(t, LBL_POS[i][0], LBL_POS[i][1]));

// x titles
[[407.5,440],[1069,440],[1731,440]].forEach(([cx, cy]) => { htext(XT_PROP[0], cx, cy, 34); htext(XT_PROP[1], cx, cy + 40, 34); });
[[417,998.7],[1078,998.7],[1741,988]].forEach(([cx, cy]) => { htext(XT_MRNA[0], cx, cy, 35); htext(XT_MRNA[1], cx, cy + 40, 35); });
htext(XT_TPM, 376, 1546, 34); htext(XT_TPM, 1044, 1558, 34); htext(XT_TPM, 1703.5, 1550, 34);

// y titles
vtext(YT_A[0], 120, 372, 36, 'start'); vtext(YT_A[1], 161, 372, 36, 'start');
vtext(YT_B[0], 785, 370, 36, 'start'); vtext(YT_B[1], 826, 370, 36, 'start');
vtext(YT_C[0], 1444, 222, 36, 'mid'); vtext(YT_C[1], 1486, 206, 36, 'mid');
vtext(YT_D[0], 124, 765, 37, 'mid'); vtext(YT_D[1], 166, 765, 37, 'mid');
vtext(YT_E[0], 787, 762, 37, 'mid'); vtext(YT_E[1], 829, 762, 37, 'mid');
vtext(YT_F[0], 1450, 753, 37, 'mid'); vtext(YT_F[1], 1490, 753, 37, 'mid');
vtext(YT_G, 108, 1295, 36, 'mid'); vtext(YT_H, 770, 1302, 36, 'mid'); vtext(YT_I, 1437, 1286, 36, 'mid');
</script>
</body></html>
